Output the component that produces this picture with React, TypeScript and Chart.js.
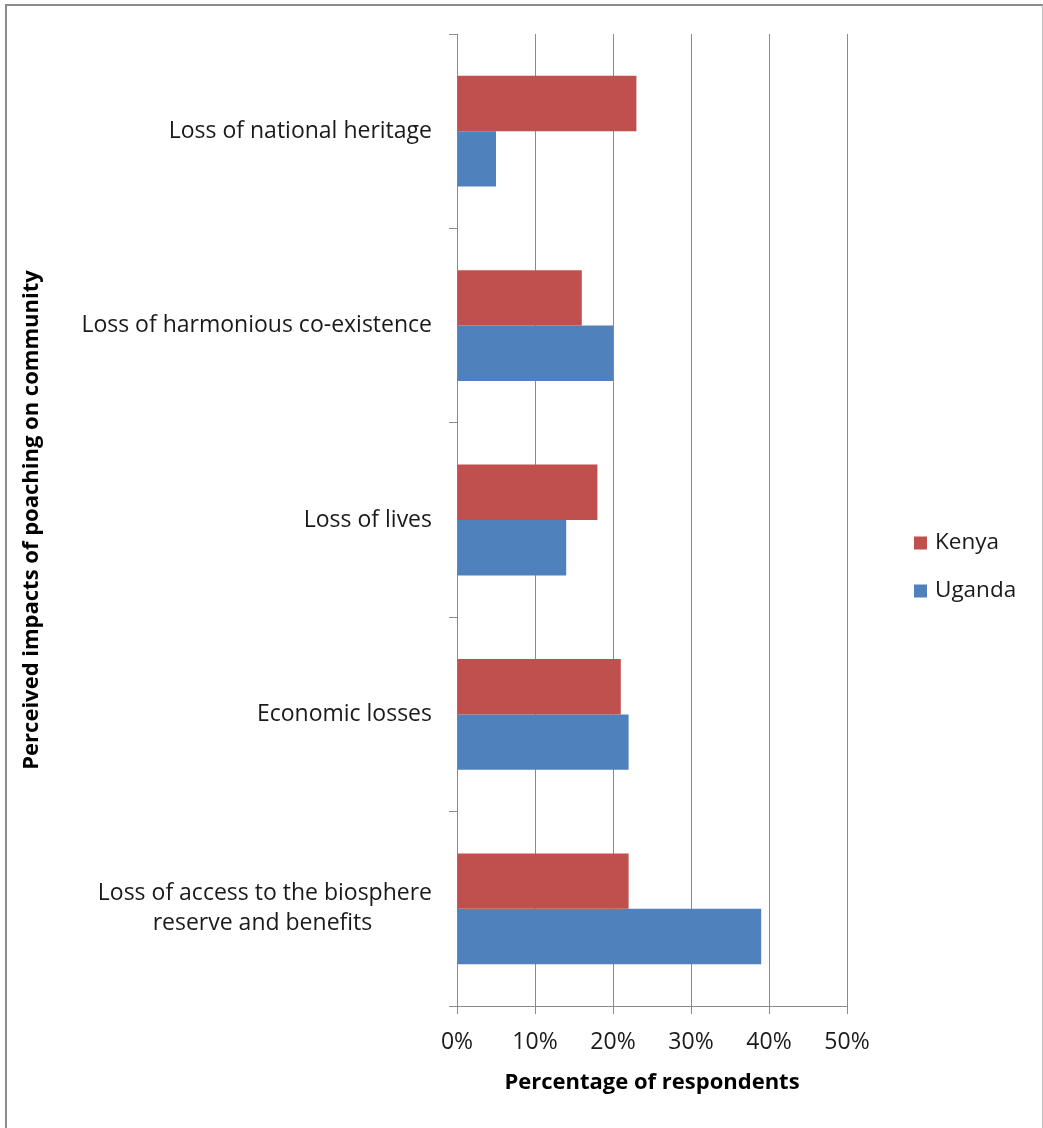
import React, { useEffect, useRef } from 'react';
import { Chart, registerables } from 'chart.js';

Chart.register(...registerables);

const categories: (string | string[])[] = [
  'Loss of national heritage',
  'Loss of harmonious co-existence',
  'Loss of lives',
  'Economic losses',
  ['Loss of access to the biosphere', 'reserve and benefits\u00A0\u00A0\u00A0\u00A0\u00A0\u00A0\u00A0\u00A0\u00A0\u00A0'],
];
const seriesNames = ['Kenya', 'Uganda'];
const kenyaValues = [23, 16, 18, 21, 22];
const ugandaValues = [5, 20, 14, 22, 39];
const seriesColors = ['#C0504D', '#4F81BD'];
const xMax = 50;
const xStep = 10;
const xTitle = 'Percentage of respondents';
const yTitle = 'Perceived impacts of poaching on community';

const FONT = '"Open Sans", Lato, sans-serif';
const GRID = '#8a8a8a';
const TEXT = '#1a1a1a';

const sideLegend = {
  id: 'sideLegend',
  afterDraw(chart: any, _args: any, opts: any) {
    const ctx = chart.ctx;
    ctx.save();
    chart.data.datasets.forEach((ds: any, i: number) => {
      const y = opts.y0 + i * opts.gap;
      ctx.fillStyle = ds.backgroundColor;
      ctx.fillRect(opts.x, y - opts.box / 2, opts.box, opts.box);
      ctx.fillStyle = TEXT;
      ctx.font = `${opts.size}px ${FONT}`;
      ctx.textBaseline = 'middle';
      ctx.textAlign = 'left';
      ctx.fillText(ds.label, opts.x + opts.box + opts.textGap, y);
    });
    ctx.restore();
  },
};

export default function App() {
  const ref = useRef<HTMLCanvasElement | null>(null);
  useEffect(() => {
    if (!ref.current) return;
    const chart = new Chart(ref.current, {
      type: 'bar',
      data: {
        labels: categories as any,
        datasets: [
          { label: seriesNames[0], data: kenyaValues, backgroundColor: seriesColors[0] },
          { label: seriesNames[1], data: ugandaValues, backgroundColor: seriesColors[1] },
        ],
      },
      plugins: [sideLegend as any],
      options: {
        indexAxis: 'y',
        responsive: false,
        animation: false,
        layout: { padding: { top: 34, right: 196, bottom: 0, left: 0 } },
        datasets: { bar: { categoryPercentage: 0.57, barPercentage: 1 } } as any,
        plugins: {
          legend: { display: false },
          tooltip: { enabled: false },
          sideLegend: { x: 914, y0: 543, gap: 48, box: 13, textGap: 8, size: 22.5 },
        } as any,
        scales: {
          x: {
            min: 0,
            max: xMax,
            ticks: {
              stepSize: xStep,
              callback: (v: any) => v + '%',
              font: { family: FONT, size: 23 },
              color: TEXT,
              padding: 15,
            },
            grid: { color: GRID, tickLength: 8, lineWidth: 1 },
            border: { color: GRID },
            title: {
              display: true,
              text: xTitle,
              font: { family: FONT, size: 22, weight: 'bold' },
              color: '#000',
              padding: { top: 0, bottom: 32 },
            },
            afterFit: (s: any) => { s.height = 122; s.paddingLeft = 0; s.paddingRight = 0; },
          },
          y: {
            type: 'category',
            ticks: {
              crossAlign: 'near',
              font: { family: FONT, size: 23, lineHeight: 1.3 },
              color: TEXT,
              padding: 17,
            },
            grid: { offset: true, drawOnChartArea: false, tickLength: 8, color: GRID },
            border: { color: GRID },
            title: {
              display: true,
              text: yTitle,
              font: { family: FONT, size: 22, weight: 'bold' },
              color: '#000',
              padding: { top: 19, bottom: 0 },
            },
            afterFit: (s: any) => { s.width = 457; s.paddingTop = 0; s.paddingBottom = 0; },
          },
        },
      } as any,
    });
    return () => chart.destroy();
  }, []);
  return (
    <div style={{ position: 'absolute', left: 0, top: 0, width: 1043, height: 1128, background: '#fff' }}>
      <canvas ref={ref} width={1043} height={1128} style={{ display: 'block' }} />
      <div
        style={{
          position: 'absolute', left: 5, top: 4, width: 1035, height: 1124,
          borderLeft: '2px solid #8c8c8c', borderTop: '2px solid #8c8c8c', borderRight: '1px solid #bdbdbd',
          boxSizing: 'content-box', pointerEvents: 'none',
        }}
      />
    </div>
  );
}
